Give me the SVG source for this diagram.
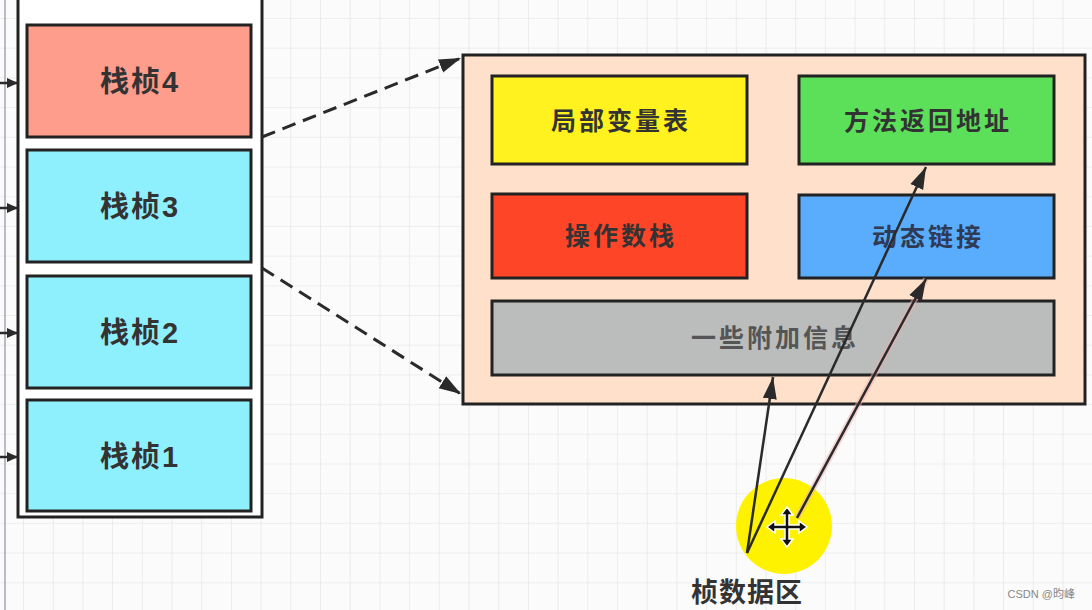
<svg xmlns="http://www.w3.org/2000/svg" width="1092" height="610" viewBox="0 0 1092 610">
<defs>
<pattern id="grid" x="23" y="18" width="29.7" height="29.7" patternUnits="userSpaceOnUse">
<path d="M0 0V29.7M0 0H29.7" fill="none" stroke="#e2e2e2" stroke-width="1.2"/>
</pattern>
<marker id="ah" markerUnits="userSpaceOnUse" markerWidth="24" markerHeight="16" refX="22" refY="8" orient="auto" viewBox="0 0 24 16">
<path d="M0 1 L22 8 L0 15 Z" fill="#2a2a2a"/>
</marker>
<marker id="ahs" markerUnits="userSpaceOnUse" markerWidth="12" markerHeight="10" refX="11" refY="5" orient="auto" viewBox="0 0 12 10">
<path d="M0 0 L11 5 L0 10 Z" fill="#2a2a2a"/>
</marker>
<style>
.frame{stroke:#222;stroke-width:3}
.ft{font-family:"Liberation Sans","Noto Sans CJK SC",sans-serif;font-weight:bold;font-size:29px;letter-spacing:2px;fill:#333;text-anchor:middle}
.box{stroke:#222;stroke-width:3}
.bt{font-family:"Noto Sans CJK SC","Liberation Sans",sans-serif;font-weight:bold;font-size:25px;letter-spacing:3px;fill:#333;text-anchor:middle}
.dash{fill:none;stroke:#2a2a2a;stroke-width:3;stroke-dasharray:14 8}
.arr{fill:none;stroke:#2a2a2a;stroke-width:2.5}
</style>
</defs>
<rect width="1092" height="610" fill="#fbfbfb"/>
<rect width="1092" height="610" fill="url(#grid)"/>
<line x1="5" y1="0" x2="5" y2="610" stroke="#8a93a3" stroke-width="1.2"/>

<g id="stack">
<rect x="18" y="-5" width="244" height="522" fill="#fff" stroke="#222" stroke-width="3"/>
</g>
<g id="frame4">
<rect class="frame" x="27" y="25" width="224" height="112" fill="#ff9d8c"/>
<text class="ft" x="140" y="92">栈桢4</text>
</g>
<g id="frame3">
<rect class="frame" x="27" y="150" width="224" height="112" fill="#8ff0fd"/>
<text class="ft" x="140" y="217">栈桢3</text>
</g>
<g id="frame2">
<rect class="frame" x="27" y="276" width="224" height="112" fill="#8ff0fd"/>
<text class="ft" x="140" y="343">栈桢2</text>
</g>
<g id="frame1">
<rect class="frame" x="27" y="400" width="224" height="111" fill="#8ff0fd"/>
<text class="ft" x="140" y="467">栈桢1</text>
</g>

<g id="panel">
<rect x="463" y="55" width="622" height="349" fill="#ffe1cb" stroke="#222" stroke-width="3"/>
</g>
<g id="local-vars">
<rect class="box" x="492" y="76" width="255" height="88" fill="#fff21f"/>
<text class="bt" x="621" y="130">局部变量表</text>
</g>
<g id="return-addr">
<rect class="box" x="799" y="76" width="255" height="88" fill="#5ce05a"/>
<text class="bt" x="928" y="130">方法返回地址</text>
</g>
<g id="operand-stack">
<rect class="box" x="492" y="194" width="255" height="84" fill="#ff4527"/>
<text class="bt" x="621" y="245">操作数栈</text>
</g>
<g id="dynamic-link">
<rect class="box" x="799" y="195" width="255" height="83" fill="#5aacfd"/>
<text class="bt" x="928" y="246" style="fill:#2f3a55">动态链接</text>
</g>
<g id="extra-info">
<rect class="box" x="492" y="301" width="562" height="74" fill="#bbbcbc"/>
<text class="bt" x="775" y="347" style="fill:#555">一些附加信息</text>
</g>

<g id="highlight">
<circle cx="784" cy="526" r="48" fill="#fff200"/>
</g>

<g id="connectors">
<line x1="0" y1="83" x2="18" y2="83" class="arr" marker-end="url(#ahs)"/>
<line x1="0" y1="208" x2="18" y2="208" class="arr" marker-end="url(#ahs)"/>
<line x1="0" y1="333" x2="18" y2="333" class="arr" marker-end="url(#ahs)"/>
<line x1="0" y1="457" x2="18" y2="457" class="arr" marker-end="url(#ahs)"/>
<line x1="262" y1="137" x2="461" y2="58" class="dash" marker-end="url(#ah)"/>
<line x1="262" y1="268" x2="461" y2="394" class="dash" marker-end="url(#ah)"/>
<line x1="747" y1="553" x2="773" y2="377" class="arr" marker-end="url(#ah)"/>
<line x1="747" y1="553" x2="926" y2="167" class="arr" marker-end="url(#ah)"/>
<line x1="797" y1="518" x2="926" y2="279" stroke="#f0b0b0" stroke-width="6" opacity="0.5"/>
<line x1="797" y1="518" x2="926" y2="279" class="arr" marker-end="url(#ah)"/>
</g>

<g id="cursor" transform="translate(787 527)">
<path d="M0 -20 L-6 -12 L-2 -12 L-2 -2 L-12 -2 L-12 -6 L-20 0 L-12 6 L-12 2 L-2 2 L-2 12 L-6 12 L0 20 L6 12 L2 12 L2 2 L12 2 L12 6 L20 0 L12 -6 L12 -2 L2 -2 L2 -12 L6 -12 Z" fill="#111" stroke="#fff" stroke-width="1.5"/>
</g>

<g id="label">
<text x="747" y="602" style="font-family:'Noto Sans CJK SC','Liberation Sans',sans-serif;font-size:27px;font-weight:bold;letter-spacing:1px;fill:#333;text-anchor:middle">桢数据区</text>
</g>
<text x="1075" y="598" style="font-family:'Liberation Sans','Noto Sans CJK SC',sans-serif;font-size:11px;fill:#888;text-anchor:end">CSDN @昀峰</text>
</svg>
